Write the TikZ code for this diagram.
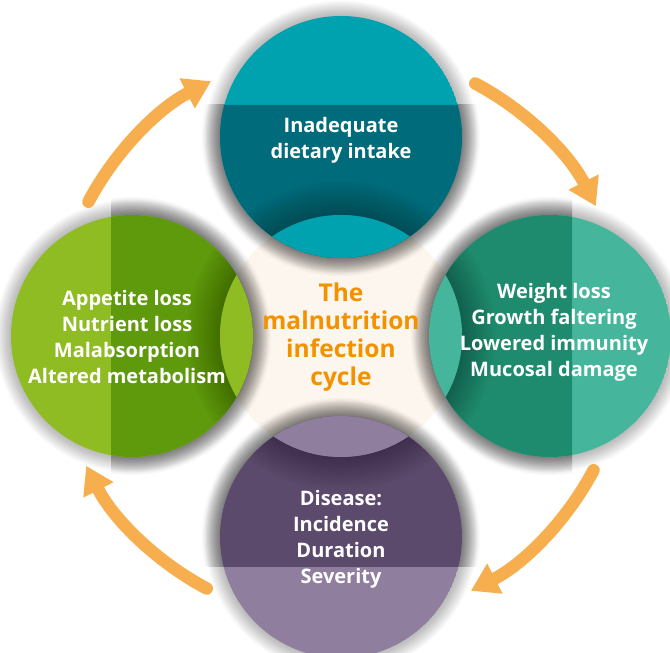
\documentclass[tikz,border=0pt]{standalone}
\usepackage{fontspec}
\setmainfont{Open Sans}
\usetikzlibrary{arrows.meta,calc}
\definecolor{creamc}{HTML}{FDF6EE}
\definecolor{toplight}{HTML}{00A2AF}
\definecolor{topdark}{HTML}{006B7A}
\definecolor{leftlight}{HTML}{8FBC22}
\definecolor{leftdark}{HTML}{5E9A0C}
\definecolor{rightlight}{HTML}{45B69C}
\definecolor{rightdark}{HTML}{1F8B6E}
\definecolor{botlight}{HTML}{8F7E9E}
\definecolor{botdark}{HTML}{5C4A6C}
\definecolor{titlec}{HTML}{F39200}
\definecolor{arrowc}{HTML}{F7AE4E}
\newcommand\softshadow[3]{% centre, step, opacity
  \foreach \i in {1,...,14}{\fill[black, opacity=#3] (#1) circle ({121+\i*#2});}}
\newcommand\mkcircle[3]{%
  \softshadow{#1}{1.1}{0.018}
  \begin{scope}
    \clip (rtl) rectangle (rbr);
    \softshadow{#1}{1.3}{0.024}
  \end{scope}
  \begin{scope}
    \clip (#1) circle (121);
    \fill[#2] (#1) circle (121);
    \fill[#3, even odd rule] (rtl) rectangle (rbr) (C) circle (121);
    \softshadow{C}{2.4}{0.018}
    \fill[#2] (C) circle (121);
  \end{scope}}
\tikzset{
  cyc/.style={draw=arrowc, line width=12.5pt, line cap=round, -{Triangle[length=27pt,width=32pt]}},
  ring/.style={circle, minimum size=242pt, inner sep=0pt},
  label/.style={text=white, align=center, font=\bfseries\fontsize{20}{26}\selectfont},
  title/.style={text=titlec, align=center, font=\bfseries\fontsize{24.5}{28}\selectfont}
}
\begin{document}
\begin{tikzpicture}[x=1pt,y=1pt]
\useasboundingbox (0,0) rectangle (670,653);
\fill[white] (0,0) rectangle (670,653);
\coordinate (rtl) at (111,548);
\coordinate (rbr) at (572,86);
\node[ring] (C) at (341,317) {};
\node[ring] (T) at (341,516) {};
\node[ring] (L) at (132,317) {};
\node[ring] (R) at (550,317) {};
\node[ring] (B) at (341,116) {};
\fill[creamc] (C) circle (121);
\mkcircle{T}{toplight}{topdark}
\mkcircle{L}{leftlight}{leftdark}
\mkcircle{R}{rightlight}{rightdark}
\mkcircle{B}{botlight}{botdark}
\draw[cyc] ($(C)+(152:286)$) arc[start angle=152,end angle=117,radius=286];
\draw[cyc] ($(C)+(62:286)$) arc[start angle=62,end angle=27,radius=286];
\draw[cyc] ($(C)+(-28:286)$) arc[start angle=-28,end angle=-63,radius=286];
\draw[cyc] ($(C)+(-118:286)$) arc[start angle=-118,end angle=-153,radius=286];
\node[label] (tt) at (341,513) {Inadequate\\dietary intake};
\node[label] (lt) at (127,316) {Appetite loss\\Nutrient loss\\Malabsorption\\Altered metabolism};
\node[label] (rt) at (554,321) {Weight loss\\Growth faltering\\Lowered immunity\\Mucosal damage};
\node[label] (bt) at (341,114) {Disease:\\Incidence\\Duration\\Severity};
\node[title] (ct) at (341,316) {The\\malnutrition\\infection\\cycle};
\end{tikzpicture}
\end{document}
